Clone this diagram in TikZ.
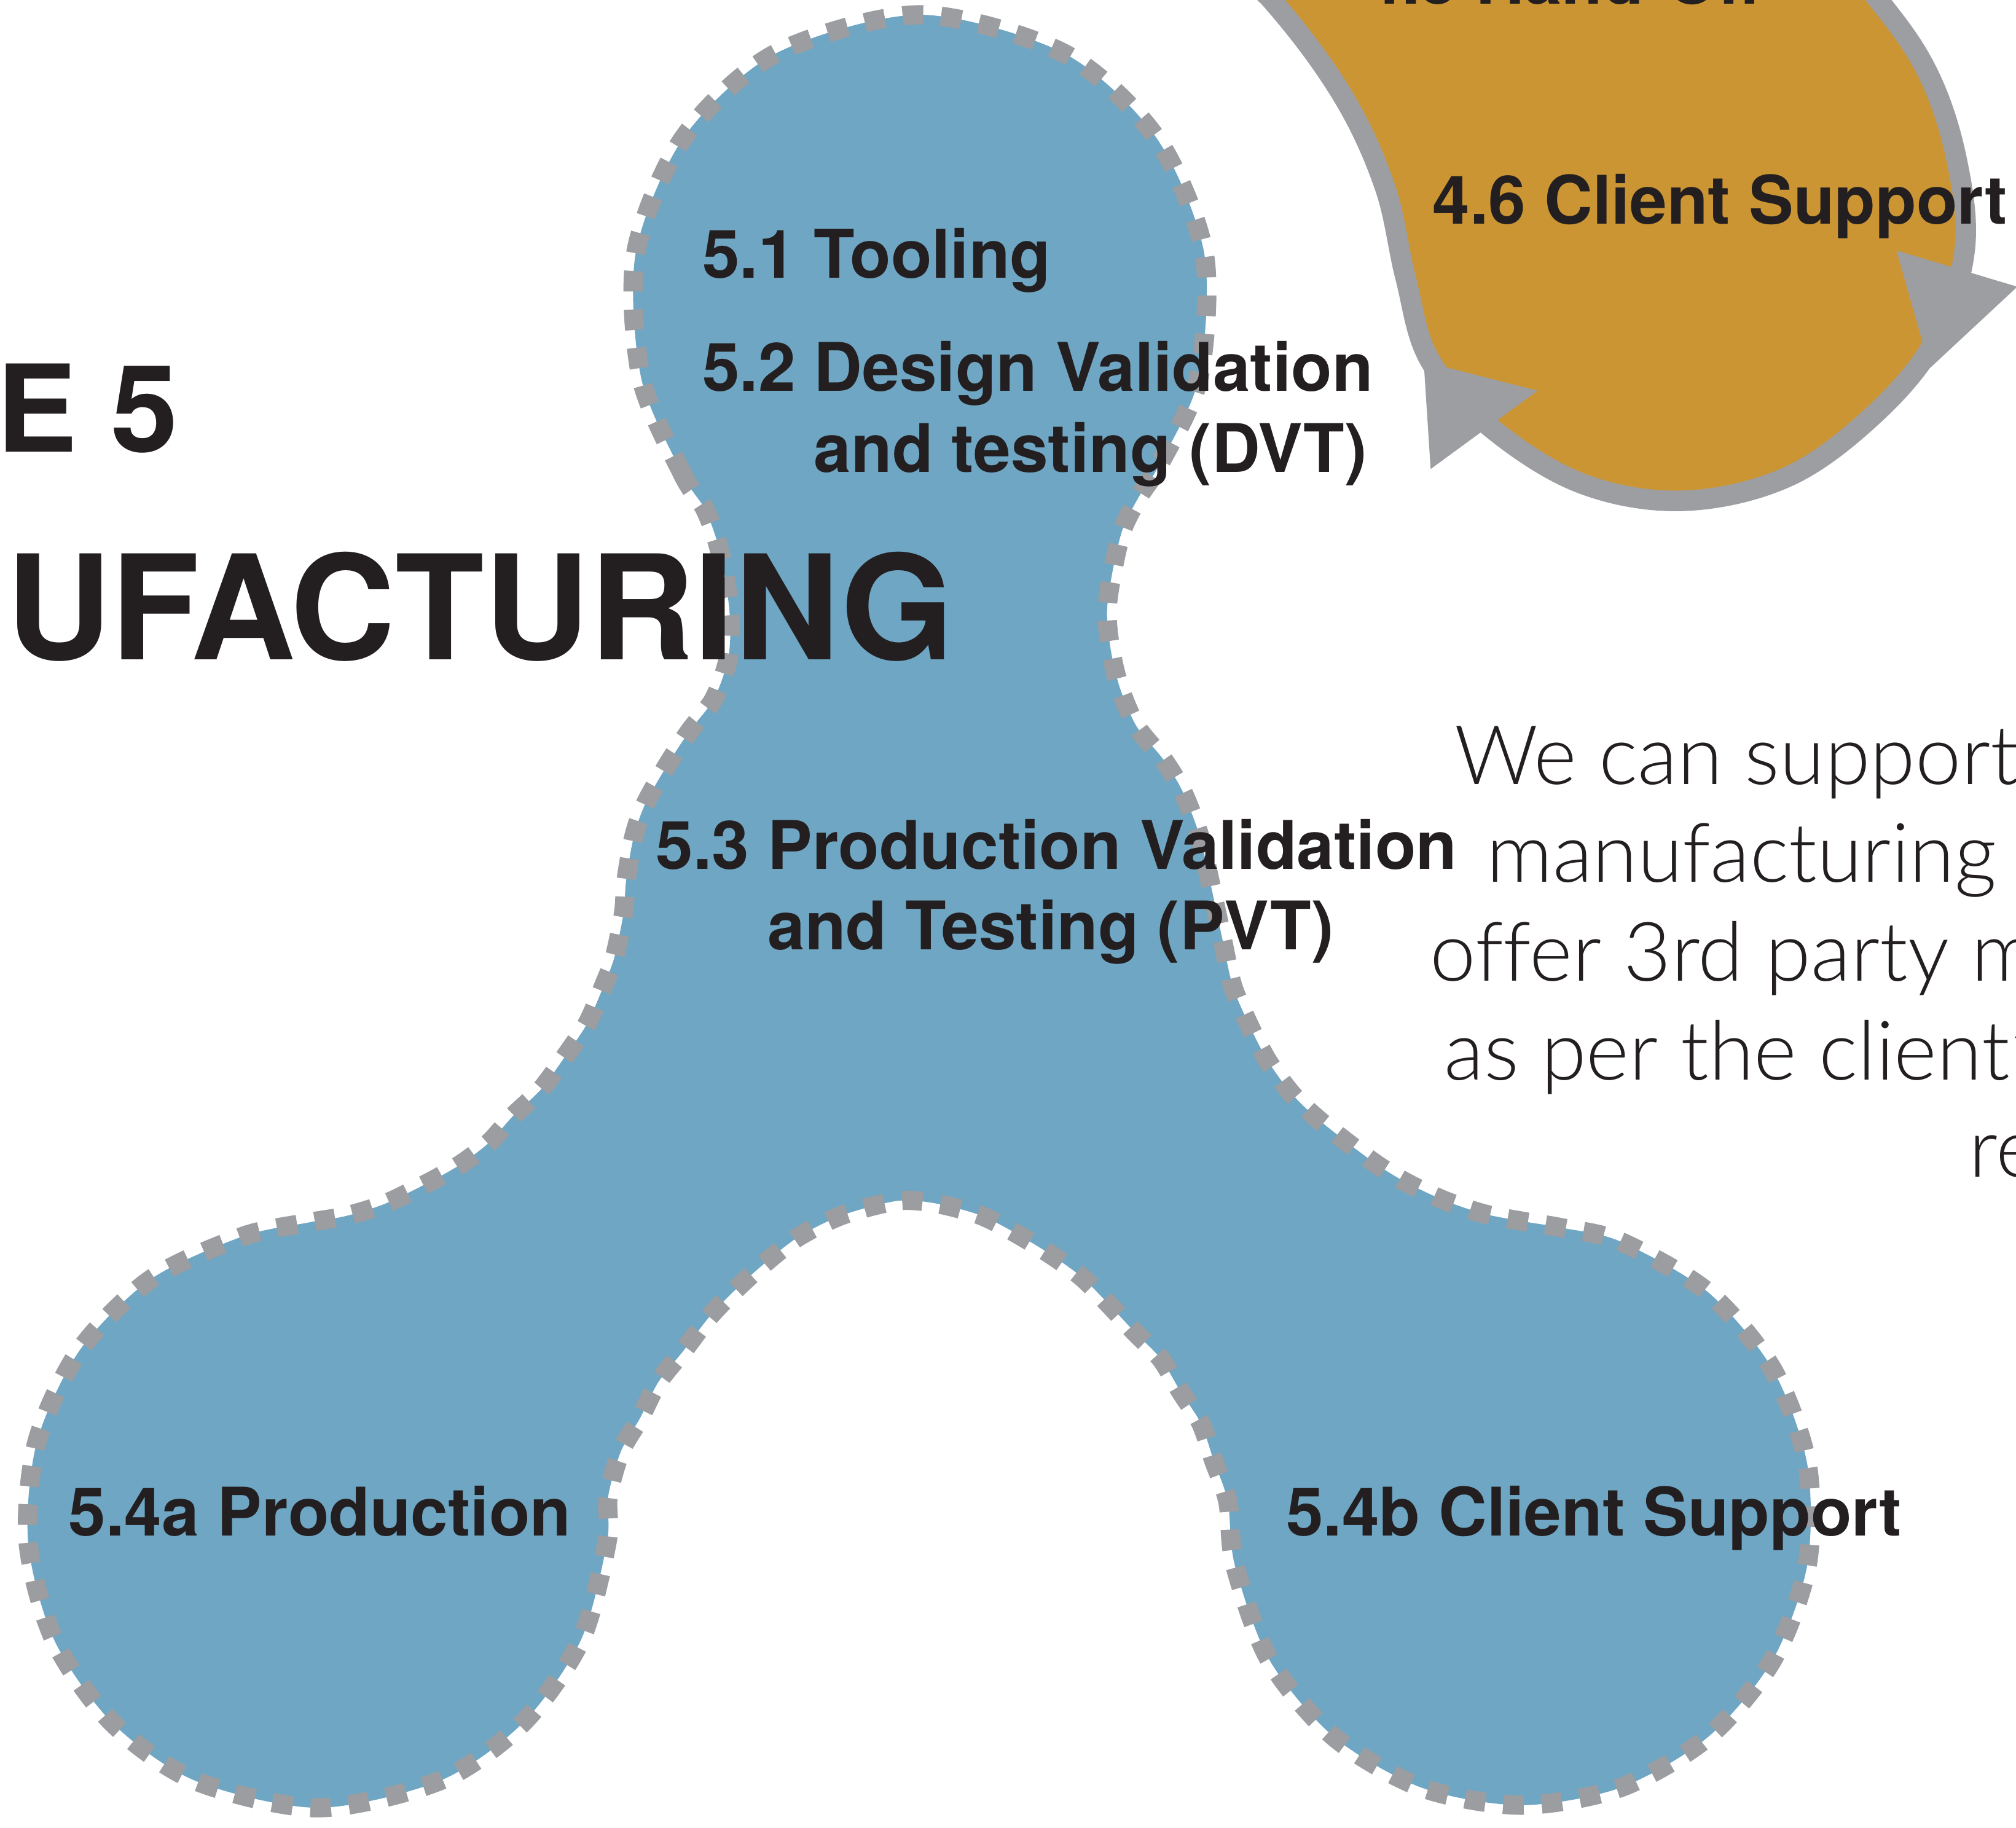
\documentclass[tikz,border=0pt]{standalone}
\usepackage{fontspec}
\setmainfont{TeX Gyre Heros}
\IfFontExistsTF{Lato Light}{\newfontfamily\lightfont[Ligatures=NoCommon]{Lato Light}}{\newfontfamily\lightfont{TeX Gyre Heros}}
\definecolor{blobblue}{HTML}{6FA6C3}
\definecolor{dashgray}{HTML}{9C9DA0}
\definecolor{ringgray}{HTML}{9D9EA2}
\definecolor{stagegold}{HTML}{CB9534}
\definecolor{ink}{HTML}{231F20}

\begin{document}
\begin{tikzpicture}[x=0.020925cm, y=-0.020925cm,
    blob/.style={fill=blobblue, draw=dashgray, line width=8.9pt, dash pattern=on 9.5pt off 8.3pt},
    ring/.style={fill=stagegold, draw=ringgray, line width=9.5pt},
    tip/.style={fill=ringgray},
    sublabel/.style={font=\fontsize{31}{37.3}\selectfont\bfseries, text=ink, inner sep=0pt, anchor=base west},
    heading/.style={text=ink, inner sep=0pt, anchor=base west},
    bodyline/.style={font=\lightfont\fontsize{38}{45}\selectfont, text=ink, inner sep=0pt, anchor=base west}]
  \useasboundingbox (0,0) rectangle (1568,1421.3);
  \clip (0,0) rectangle (1568,1421.3);

  % stage 5 blob
  \path[blob] plot[smooth cycle, tension=0.5] coordinates {
    (548,395.5) (531,369) (498.7,294.1) (494.4,197) (531.6,107.2) (603.3,41.6) (715.5,11.5)
    (827.8,41.6) (899.4,107.2) (936.6,197) (932.4,294.1) (901.6,361.5) (886,386) (873,412)
    (865,446) (861,476) (864,506) (871,535) (884,565) (905,591) (920,616) (933,650) (941,685)
    (950,727) (958.5,766) (971,796) (986,825) (1005,851) (1027,872) (1067,903) (1092.5,919)
    (1123,933.5) (1154,944) (1185,950) (1215,955) (1260.3,965.6) (1328.3,1004.9) (1378.7,1065)
    (1405.6,1138.7) (1405.6,1217.3) (1378.7,1291) (1328.3,1351.1) (1260.3,1390.4) (1183,1404)
    (1105.7,1390.4) (1037.7,1351.1) (987.3,1291) (960.4,1217.3) (955,1168) (944,1136) (934,1107)
    (918,1082) (903,1057) (882,1035.5) (862,1014) (841,993) (816,975) (788,958) (762,945)
    (728,936) (698,934) (655.5,945) (621,962) (593,984) (570,1005) (551,1025) (532,1050)
    (512,1075) (497.5,1103.5) (483,1128.6) (473,1164) (472.1,1199.7) (451.8,1275.6)
    (406.8,1339.8) (342.6,1384.8) (247,1406) (151.4,1384.8) (87.2,1339.8) (42.2,1275.6)
    (21.9,1199.7) (28.7,1121.5) (61.9,1050.3) (117.3,994.9) (188.5,961.7) (239,951) (268,946)
    (297.5,937) (327,923) (356,907) (380,889) (399,868) (421,847) (440,821) (457,795.5)
    (470,765.5) (478,744) (485,710) (487,684.5) (493,650.5) (502,625) (519,595) (536,569)
    (555,544) (566,514) (568,486) (564.6,452.5) (558,422)};

  % stage 4 ring with its arrow tips
  \path[ring] plot[smooth cycle, tension=0.6] coordinates {
    (989,0) (1044,74) (1077,145) (1093,215) (1112,280) (1160,333) (1230,376) (1309,389.5)
    (1390,371) (1457,323) (1505,265) (1528,195) (1522,125) (1500,58) (1461,0) (1390,-80)
    (1250,-170) (1050,-170) (910,-80)};
  \fill[tip] (1107.3,281.2) -- (1195.9,303.9) -- (1112.7,364.8) -- cycle;
  \fill[tip] (1475,194.8) -- (1569,223) -- (1501,286.3) -- cycle;

  \node[sublabel] (t45) at (1061,3.2) {4.5 Hand-Off};
  \node[sublabel] (t46) at (1114,174.2) {4.6 Client Support};

  % title
  \node[heading, font=\fontsize{56}{60}\selectfont\bfseries] (phase) at (-3,351.3) {E 5};
  \node[heading, font=\fontsize{67.3}{72}\selectfont\bfseries] (title) at (4.5,512.8) {UFACTURING};

  % steps
  \node[sublabel] (t51) at (546,216.2) {5.1 Tooling};
  \node[sublabel] (t52) at (546,304.4) {\begin{tabular}[t]{@{}l@{\ }l@{}}5.2 & Design Validation\\ & and testing (DVT)\end{tabular}};
  \node[sublabel] (t53) at (510,676) {\begin{tabular}[t]{@{}l@{\ }l@{}}5.3 & Production Validation\\ & and Testing (PVT)\end{tabular}};
  \node[sublabel] (t54a) at (53,1194.7) {5.4a Production};
  \node[sublabel] (t54b) at (1000,1194.7) {5.4b Client Support};

  % side text
  \foreach \name/\px/\py/\words in {p1/1131/610.2/We can support, p2/1156/686.2/manufacturing,
      p3/1112/763/offer 3rd party m, p4/1123/839.8/as per the client’, p5/1531/915.2/re}
    \node[bodyline] (\name) at (\px,\py) {\words};
\end{tikzpicture}
\end{document}
